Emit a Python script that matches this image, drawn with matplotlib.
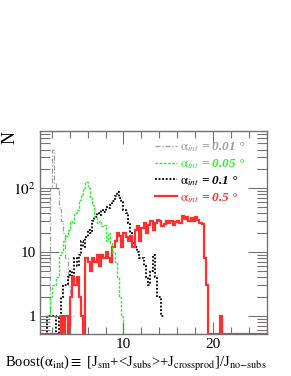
import numpy as np
import matplotlib
matplotlib.use("Agg")
import matplotlib.pyplot as plt
from matplotlib.ticker import FixedLocator, FixedFormatter, MultipleLocator, LogLocator, NullFormatter
from matplotlib.lines import Line2D

plt.rcParams['font.family'] = ['Liberation Serif', 'DejaVu Serif']
plt.rcParams['mathtext.fontset'] = 'stix'

# ---------------- data ----------------
bin_width = 0.25
series_names = ["0.01", "0.05", "0.1", "0.5"]

gray_start = 1.25
gray_counts = [1, 1, 100, 400, 120, 95, 47, 30, 20, 8, 3, 1, 1]

green_start = 1.25
green_counts = [1, 1, 2, 3, 3, 4, 9, 10, 15, 18, 22, 30, 28, 40, 45, 65, 80, 100,
                125, 100, 70, 55, 35, 28, 30, 25, 26, 15, 20, 14, 10, 7, 4, 2, 1,
                0, 0, 0, 0, 0, 0, 0, 0, 0, 0, 0, 0, 0, 0, 0, 0, 0, 0, 0, 0, 0, 0,
                0, 0, 0, 0, 0, 0, 0, 0, 0, 0, 0, 0, 0, 0, 0, 0, 0, 0]

black_start = 1.25
black_counts = [0, 1, 1, 1, 1, 0, 1, 2, 3, 3, 4, 5, 4, 8, 6, 9, 15, 12, 17, 22, 20,
                30, 35, 40, 38, 45, 42, 50, 48, 55, 62, 75, 88, 70, 60, 45, 40, 28,
                20, 14, 12, 10, 8, 8, 6, 4, 3, 5, 9, 4, 2, 2, 1]

red_start = 0.5
red_counts = [0, 0, 0, 0, 0, 0, 0, 0, 0, 0, 1, 0, 1, 0, 2, 4, 3, 4, 2, 1, 0, 8, 7,
              5, 8, 7, 9, 6, 9, 8, 10, 8, 7, 12, 15, 20, 18, 12, 20, 17, 15, 18,
              12, 22, 25, 15, 24, 28, 20, 26, 30, 22, 28, 32, 30, 25, 27, 30, 28,
              30, 26, 29, 31, 28, 36, 33, 35, 31, 34, 30, 35, 32, 28, 27, 8, 3, 0,
              0, 0, 0, 0, 1, 0, 0, 0, 0, 0, 0, 0, 0, 0, 0, 0, 0, 0, 0, 0, 0, 0, 0, 0, 0]

x_ticks_major = [10, 20]
x_tick_labels = ["10", "20"]
y_ticks_major = [1, 10, 100]
y_tick_labels = ["1", "10", r"$10^2$"]

# ---------------- figure ----------------
fig = plt.figure(figsize=(2.91, 3.76), dpi=100)
ax = fig.add_axes([0.1375, 0.1117, 0.78, 0.54])

ymin, ymax = 0.52, 780

def draw(start, counts, **kw):
    counts = np.asarray(counts, dtype=float)
    edges = start + bin_width * np.arange(len(counts) + 1)
    vals = np.where(counts > 0, counts, ymin)
    return ax.stairs(vals, edges, baseline=None, **kw)

c_gray, c_green, c_black, c_red = '#a0a0a0', '#33ee33', 'black', '#ff3030'
ls_gray = (0, (4, 1.5, 1, 1.5))
ls_green = (0, (2, 1))
ls_black = (0, (1, 1))

draw(gray_start, gray_counts, color=c_gray, lw=0.9, linestyle=ls_gray)
draw(black_start, black_counts, color=c_black, lw=1.3, linestyle=ls_black)
draw(red_start, red_counts, color=c_red, lw=1.6, linestyle='-')
draw(green_start, green_counts, color=c_green, lw=1.0, linestyle=ls_green)

ax.set_yscale('log')
ax.set_xlim(0.67, 26.05)
ax.set_ylim(ymin, ymax)

ax.xaxis.set_major_locator(FixedLocator(x_ticks_major))
ax.xaxis.set_major_formatter(FixedFormatter(x_tick_labels))
ax.xaxis.set_minor_locator(MultipleLocator(2))
ax.yaxis.set_major_locator(FixedLocator(y_ticks_major))
ax.yaxis.set_major_formatter(FixedFormatter(y_tick_labels))
ax.yaxis.set_minor_locator(LogLocator(base=10, subs=np.arange(2, 10)))
ax.yaxis.set_minor_formatter(NullFormatter())

frame_col = '0.45'
for s in ax.spines.values():
    s.set_color(frame_col)
    s.set_linewidth(1.0)
ax.tick_params(which='both', direction='in', top=True, right=True, color=frame_col,
               labelsize=11, pad=3)
ax.tick_params(axis='x', which='major', length=9, width=0.8)
ax.tick_params(axis='x', which='minor', length=5, width=0.8)
ax.tick_params(axis='y', which='major', length=14, width=0.8)
ax.tick_params(axis='y', which='minor', length=7, width=0.8)

ax.set_xlabel(r'Boost($\mathrm{\alpha_{int}}$)$\equiv$ [J$_{\mathrm{sm}}$+<J$_{\mathrm{subs}}$>+J$_{\mathrm{crossprod}}$]/J$_{\mathrm{no\!-\!subs}}$',
              fontsize=10.5, loc='right', labelpad=2)
ax.set_ylabel('N', fontsize=13, loc='top')
ax.yaxis.set_label_coords(-0.095, 1.0)

handles = [Line2D([], [], color=c_gray, lw=0.9, linestyle=ls_gray),
           Line2D([], [], color=c_green, lw=1.0, linestyle=ls_green),
           Line2D([], [], color=c_black, lw=1.3, linestyle=ls_black),
           Line2D([], [], color=c_red, lw=1.6)]
labels = [r'$\mathrm{\alpha}_{\mathit{int}}$ = ' + n + ' °' for n in series_names]
leg = ax.legend(handles, labels, loc='upper right', bbox_to_anchor=(0.935, 0.985),
                frameon=False, handlelength=1.7, handletextpad=0.2, labelspacing=0.22,
                borderpad=0.0,
                prop={'family': 'Liberation Serif', 'weight': 'bold', 'style': 'italic', 'size': 9.5},
                labelcolor=[c_gray, c_green, c_black, c_red])

fig.savefig('out.png', dpi=100)
